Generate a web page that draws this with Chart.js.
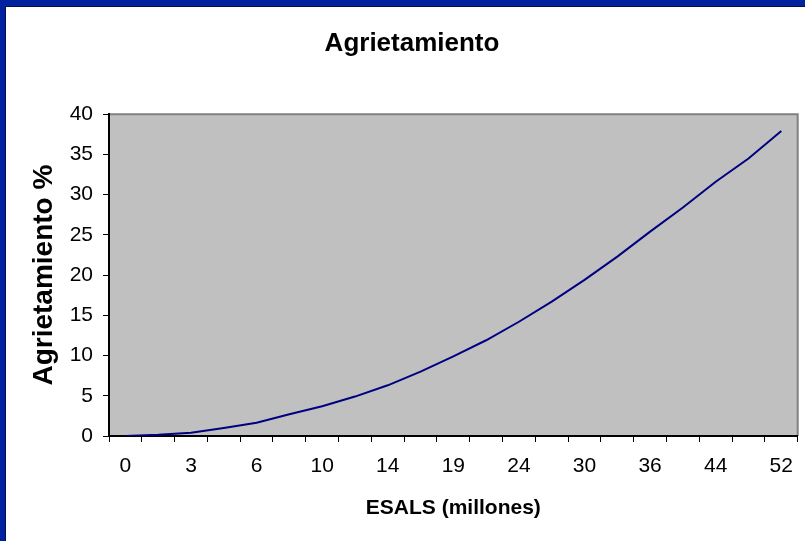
<!DOCTYPE html>
<html>
<head>
<meta charset="utf-8">
<script src="https://cdn.jsdelivr.net/npm/chart.js@4"></script>
<style>
  html, body { margin: 0; padding: 0; background: #fff; }
  #frame { width: 805px; height: 541px; background: #0022a0; box-sizing: border-box; padding: 6px 0 0 5px; }
  #inner { width: 800px; height: 535px; box-sizing: border-box; border-top: 1px solid #00104a; border-left: 1px solid #00104a; background: #fff; }
  canvas { display: block; }
</style>
</head>
<body>
<div id="frame"><div id="inner"><canvas id="c" width="799" height="534"></canvas></div></div>
<script>
// ESALS (millones) por categoria; solo se rotula una de cada dos
const esals = ['0', '1', '3', '4', '6', '8', '10', '12', '14', '16', '19', '21', '24', '27', '30', '33', '36', '40', '44', '48', '52']
const agrietamiento = [0, 0.15, 0.4, 1.0, 1.65, 2.7, 3.7, 4.9, 6.3, 8.0, 9.9, 11.9, 14.2, 16.7, 19.4, 22.3, 25.4, 28.4, 31.6, 34.5, 37.9]
const yTicks = [0, 5, 10, 15, 20, 25, 30, 35, 40]

const plotBackground = {
    id: 'plotBackground',
    beforeDraw(chart) {
        const { ctx, chartArea: a } = chart
        ctx.save()
        ctx.fillStyle = '#c0c0c0'
        ctx.fillRect(a.left, a.top, a.right - a.left, a.bottom - a.top)
        ctx.strokeStyle = '#808080'
        ctx.lineWidth = 2
        ctx.beginPath()
        ctx.moveTo(a.left, a.top)
        ctx.lineTo(a.right, a.top)
        ctx.lineTo(a.right, a.bottom)
        ctx.stroke()
        ctx.restore()
    }
}

const font = 'Liberation Sans, Arial, sans-serif'

new Chart(document.getElementById('c'), {
    type: 'line',
    data: {
        labels: esals,
        datasets: [{
            data: agrietamiento,
            borderColor: '#000080',
            borderWidth: 2,
            pointRadius: 0,
            tension: 0,
            fill: false
        }]
    },
    options: {
        responsive: false,
        animation: false,
        layout: { padding: { left: 14, right: 1, top: 0, bottom: 0 } },
        plugins: {
            legend: { display: false },
            tooltip: { enabled: false },
            title: {
                display: true,
                text: 'Agrietamiento',
                color: '#000',
                font: { family: font, size: 26, weight: 'bold' },
                padding: { top: 21, bottom: 55 }
            }
        },
        scales: {
            x: {
                offset: true,
                grid: { offset: true, drawOnChartArea: false, drawTicks: true, tickLength: 6, color: '#000', lineWidth: 1 },
                border: { color: '#000', width: 2 },
                ticks: {
                    autoSkip: false,
                    maxRotation: 0,
                    color: '#000',
                    padding: 12,
                    font: { family: font, size: 21 },
                    callback: (v, i) => i % 2 === 0 ? esals[i] : ''
                },
                title: {
                    display: true,
                    text: 'ESALS (millones)',
                    color: '#000',
                    font: { family: font, size: 21, weight: 'bold' },
                    padding: { top: 0, bottom: 20 }
                },
                afterFit: s => { s.height = 105 }
            },
            y: {
                min: 0,
                max: 40,
                afterBuildTicks: s => { s.ticks = yTicks.map(v => ({ value: v })) },
                grid: { drawOnChartArea: false, drawTicks: true, tickLength: 6, color: '#000' },
                border: { color: '#000', width: 2 },
                ticks: {
                    color: '#000',
                    padding: 10,
                    font: { family: font, size: 21 }
                },
                title: {
                    display: true,
                    text: 'Agrietamiento %',
                    color: '#000',
                    font: { family: font, size: 28, weight: 'bold' },
                    padding: { top: 7, bottom: 0 }
                },
                afterFit: s => { s.width = 89 }
            }
        }
    },
    plugins: [plotBackground]
})
</script>
</body>
</html>
